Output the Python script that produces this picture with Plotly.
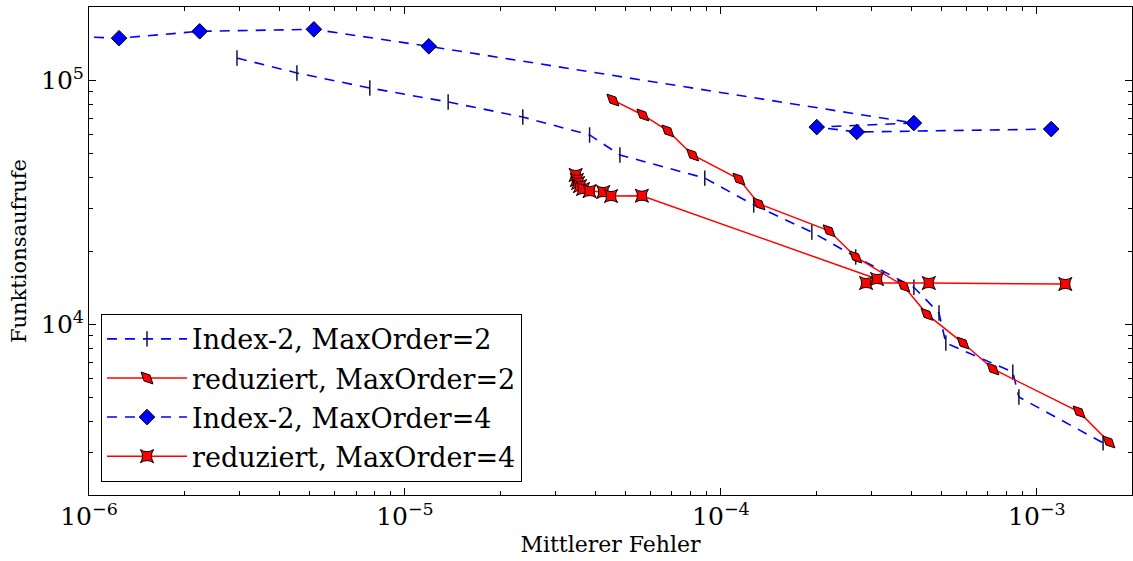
import math
import plotly.graph_objects as go

# Mean error vs. number of function calls for the four solver variants
err_i2_o2 = [2.94e-6, 4.55e-6, 7.74e-6, 1.37e-5, 2.36e-5, 3.84e-5, 4.79e-5, 8.89e-5,
             1.27e-4, 1.94e-4, 2.67e-4, 4.08e-4, 4.90e-4, 5.15e-4, 8.39e-4, 8.77e-4, 1.62e-3]
calls_i2_o2 = [123600, 107300, 93100, 81600, 70800, 59800, 49500, 39800,
               30900, 23900, 18900, 14200, 11140, 8390, 6380, 5040, 3270]

err_red_o2 = [4.55e-5, 5.66e-5, 6.79e-5, 8.14e-5, 1.14e-4, 1.32e-4, 2.20e-4,
              2.67e-4, 3.79e-4, 4.49e-4, 5.84e-4, 7.26e-4, 1.36e-3, 1.69e-3]
calls_red_o2 = [83100, 72200, 62100, 49500, 39400, 31200, 24200,
                18900, 14380, 11000, 8390, 6570, 4380, 3300]

err_i2_o4 = [7.0e-7, 1.245e-6, 2.24e-6, 5.15e-6, 1.19e-5, 4.08e-4, 2.01e-4, 2.69e-4, 1.11e-3]
calls_i2_o4 = [153000, 149000, 159000, 162000, 138000, 66900, 64400, 61500, 63200]

err_red_o4 = [3.47e-5, 3.50e-5, 3.53e-5, 3.58e-5, 3.66e-5, 3.84e-5, 4.24e-5, 4.49e-5,
              5.62e-5, 3.12e-4, 2.88e-4, 4.55e-4, 1.23e-3]
calls_red_o4 = [41000, 39100, 38000, 36900, 35900, 35200, 34900, 33600,
                33700, 15350, 14790, 14790, 14650]

names = ["Index-2, MaxOrder=2", "reduziert, MaxOrder=2",
         "Index-2, MaxOrder=4", "reduziert, MaxOrder=4"]

FONT = "DejaVu Serif"
BLUE = "#0000ff"
RED = "#ff0000"
DASH = "10px,8px"

fig = go.Figure()

fig.add_trace(go.Scatter(
    x=err_i2_o2, y=calls_i2_o2, name=names[0], legendgroup="a",
    mode="lines+markers",
    line=dict(color=BLUE, width=1.6, dash=DASH),
    marker=dict(symbol="line-ns", size=11, color="#14143c",
                line=dict(color="#14143c", width=1.5)),
))
fig.add_trace(go.Scatter(
    x=err_red_o2, y=calls_red_o2, name=names[1], legendgroup="b",
    mode="lines+markers",
    line=dict(color=RED, width=1.5),
    marker=dict(symbol="diamond-tall", size=12, angle=-45, color=RED,
                line=dict(color="black", width=1)),
))
fig.add_trace(go.Scatter(
    x=err_i2_o4, y=calls_i2_o4, name=names[2], legendgroup="c",
    mode="lines+markers",
    line=dict(color=BLUE, width=1.6, dash=DASH),
    marker=dict(symbol="diamond", size=12, color=BLUE,
                line=dict(color="black", width=1)),
))
fig.add_trace(go.Scatter(
    x=err_red_o4, y=calls_red_o4, name=names[3], legendgroup="d",
    mode="lines+markers",
    line=dict(color=RED, width=1.5),
    marker=dict(symbol="star-square", size=12, color=RED,
                line=dict(color="black", width=1)),
))

axis_common = dict(
    type="log", dtick=1, exponentformat="power",
    ticks="inside", ticklen=7, tickwidth=1, tickcolor="black",
    showline=True, linecolor="black", linewidth=1, mirror="allticks",
    showgrid=False, zeroline=False,
    minor=dict(ticks="inside", ticklen=4, tickwidth=1, tickcolor="black", showgrid=False),
    tickfont=dict(family=FONT, size=20, color="black"),
)

fig.update_layout(
    width=1133, height=561,
    margin=dict(l=89, r=1, t=7, b=66),
    paper_bgcolor="white", plot_bgcolor="white",
    font=dict(family=FONT, color="black"),
    xaxis=dict(axis_common, range=[-6, math.log10(2e-3)],
               title=dict(text="Mittlerer Fehler", font=dict(family=FONT, size=22), standoff=6)),
    yaxis=dict(axis_common, range=[math.log10(2e3), math.log10(2e5)],
               title=dict(text="Funktionsaufrufe", font=dict(family=FONT, size=21), standoff=8)),
    legend=dict(
        x=0.0115, y=0.027, xanchor="left", yanchor="bottom",
        bgcolor="white", bordercolor="black", borderwidth=1,
        font=dict(family=FONT, size=27, color="black"),
        traceorder="grouped", tracegroupgap=1, itemwidth=80,
    ),
    showlegend=True,
)

fig.write_html("out.html")
